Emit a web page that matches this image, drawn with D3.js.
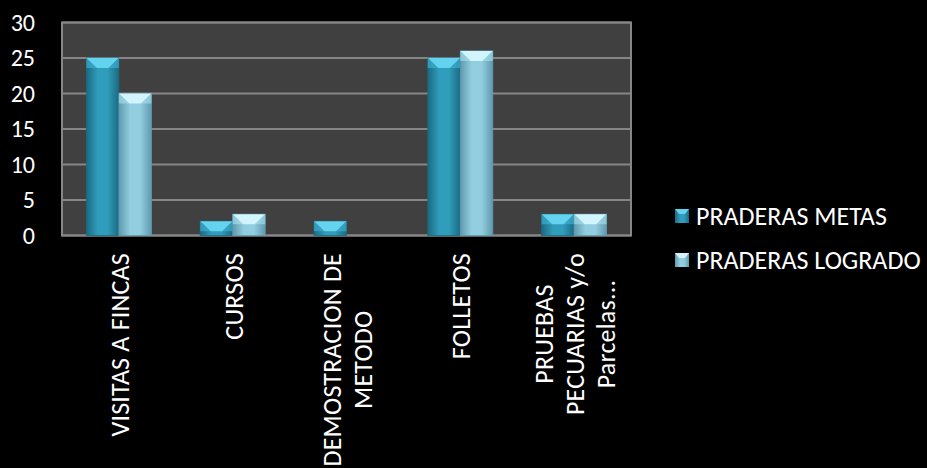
<!DOCTYPE html>
<html><head><meta charset="utf-8">
<script src="https://cdn.jsdelivr.net/npm/d3@7"></script>
<style>html,body{margin:0;padding:0;background:#000;}svg{display:block;}</style>
</head><body>
<script>
const categories = ["VISITAS A FINCAS", "CURSOS", "DEMOSTRACION DE METODO", "FOLLETOS", "PRUEBAS PECUARIAS y/o Parcelas..."];
const categoryLines = [["VISITAS A FINCAS"], ["CURSOS"], ["DEMOSTRACION DE", "METODO"], ["FOLLETOS"], ["PRUEBAS", "PECUARIAS y/o", "Parcelas..."]];
const seriesNames = ["PRADERAS METAS", "PRADERAS LOGRADO"];
const metas = [25, 2, 2, 25, 3];
const logrado = [20, 3, 0, 26, 3];
const yTicks = [0, 5, 10, 15, 20, 25, 30];

const W = 927, H = 468;
const FONT = "Carlito, Lato, 'Open Sans', sans-serif";
const svg = d3.select("body").append("svg").attr("width", W).attr("height", H);
svg.append("rect").attr("width", W).attr("height", H).attr("fill", "#000");

const pLeft = 62, pRight = 631, pTop = 22.5, pBottom = 235.5;
const y = d3.scaleLinear().domain([0, 30]).range([pBottom, pTop]);
const x0 = d3.scaleBand().domain(categories).range([pLeft, pRight]).padding(0);
const x1 = d3.scaleBand().domain(seriesNames).range([0, x0.bandwidth()]).paddingInner(0).paddingOuter(0.75);

const defs = svg.append("defs");
const pal = [
  {edge: "#1b6a82", mid: "#2f9dbb", bevel: "#63d3ef", bevelDark: "#3fb8d8"},
  {edge: "#5f9aae", mid: "#93cde0", bevel: "#d2f4fc", bevelDark: "#a9e2f2"}
];
pal.forEach((p, i) => {
  const g = defs.append("linearGradient").attr("id", "g" + i).attr("x1", 0).attr("x2", 1).attr("y1", 0).attr("y2", 0);
  g.append("stop").attr("offset", 0).attr("stop-color", p.edge);
  g.append("stop").attr("offset", 0.35).attr("stop-color", p.mid);
  g.append("stop").attr("offset", 0.65).attr("stop-color", p.mid);
  g.append("stop").attr("offset", 1).attr("stop-color", p.edge);
});

svg.append("rect").attr("x", pLeft).attr("y", pTop).attr("width", pRight - pLeft).attr("height", pBottom - pTop).attr("fill", "#404040");

svg.append("g").selectAll("line").data(yTicks).join("line")
  .attr("x1", pLeft).attr("x2", pRight).attr("y1", d => y(d)).attr("y2", d => y(d))
  .attr("stroke", "#868686").attr("stroke-width", 2);
svg.append("rect").attr("x", pLeft).attr("y", pTop).attr("width", pRight - pLeft).attr("height", pBottom - pTop)
  .attr("fill", "none").attr("stroke", "#868686").attr("stroke-width", 2);

const yAxis = d3.axisLeft(y).tickValues(yTicks).tickSize(0).tickPadding(27);
const ya = svg.append("g").attr("transform", `translate(${pLeft},0)`).call(yAxis);
ya.select(".domain").remove();
ya.selectAll("text").attr("fill", "#fff").style("font-family", FONT).style("font-size", "24px");

const data = [];
categories.forEach((c, i) => {
  [metas[i], logrado[i]].forEach((v, s) => data.push({c, s, v}));
});
const bars = svg.append("g").selectAll("g").data(data.filter(d => d.v > 0)).join("g");
bars.append("rect")
  .attr("x", d => x0(d.c) + x1(seriesNames[d.s]))
  .attr("y", d => y(d.v))
  .attr("width", x1.bandwidth())
  .attr("height", d => y(0) - y(d.v))
  .attr("fill", d => `url(#g${d.s})`)
  .attr("stroke", d => pal[d.s].edge).attr("stroke-width", 0.8);
bars.append("path")
  .attr("d", d => {
    const bx = x0(d.c) + x1(seriesNames[d.s]), bw = x1.bandwidth(), by = y(d.v);
    const bh = Math.min(10, y(0) - y(d.v));
    return `M${bx},${by}L${bx + bw},${by}L${bx + bw * 0.68},${by + bh}L${bx + bw * 0.32},${by + bh}Z`;
  })
  .attr("fill", d => pal[d.s].bevel);
bars.append("path")
  .attr("d", d => {
    const bx = x0(d.c) + x1(seriesNames[d.s]), bw = x1.bandwidth(), by = y(d.v);
    const bh = Math.min(10, y(0) - y(d.v));
    return `M${bx},${by}L${bx + bw * 0.32},${by + bh}L${bx},${by + bh}Z M${bx + bw},${by}L${bx + bw * 0.68},${by + bh}L${bx + bw},${by + bh}Z`;
  })
  .attr("fill", d => pal[d.s].bevelDark).attr("opacity", 0.6);

const lineH = 31;
categories.forEach((c, i) => {
  const lines = categoryLines[i];
  const g = svg.append("g");
  const texts = g.selectAll("text").data(lines).join("text")
    .attr("fill", "#fff").style("font-family", FONT).style("font-size", "26px").style("letter-spacing", "0.2px")
    .attr("text-anchor", "middle").attr("dominant-baseline", "central").text(d => d);
  let maxLen = 0;
  texts.each(function() { maxLen = Math.max(maxLen, this.getComputedTextLength()); });
  const cx = x0(c) + x0.bandwidth() / 2;
  const cy = 253 + maxLen / 2;
  const n = lines.length;
  texts.attr("transform", (d, j) => `translate(${cx + (j - (n - 1) / 2) * lineH + 1},${cy}) rotate(-90)`);
});

const legend = svg.append("g");
seriesNames.forEach((s, i) => {
  const ly = 216 + i * 44;
  legend.append("rect").attr("x", 675).attr("y", ly - 7).attr("width", 14).attr("height", 14)
    .attr("fill", `url(#g${i})`);
  legend.append("path").attr("d", `M675,${ly - 7}L689,${ly - 7}L685,${ly - 2}L679,${ly - 2}Z`).attr("fill", pal[i].bevel);
  legend.append("text").attr("x", 696).attr("y", ly).attr("dominant-baseline", "central")
    .attr("fill", "#fff").style("font-family", FONT).style("font-size", "26px").text(s);
});
</script>
</body></html>
